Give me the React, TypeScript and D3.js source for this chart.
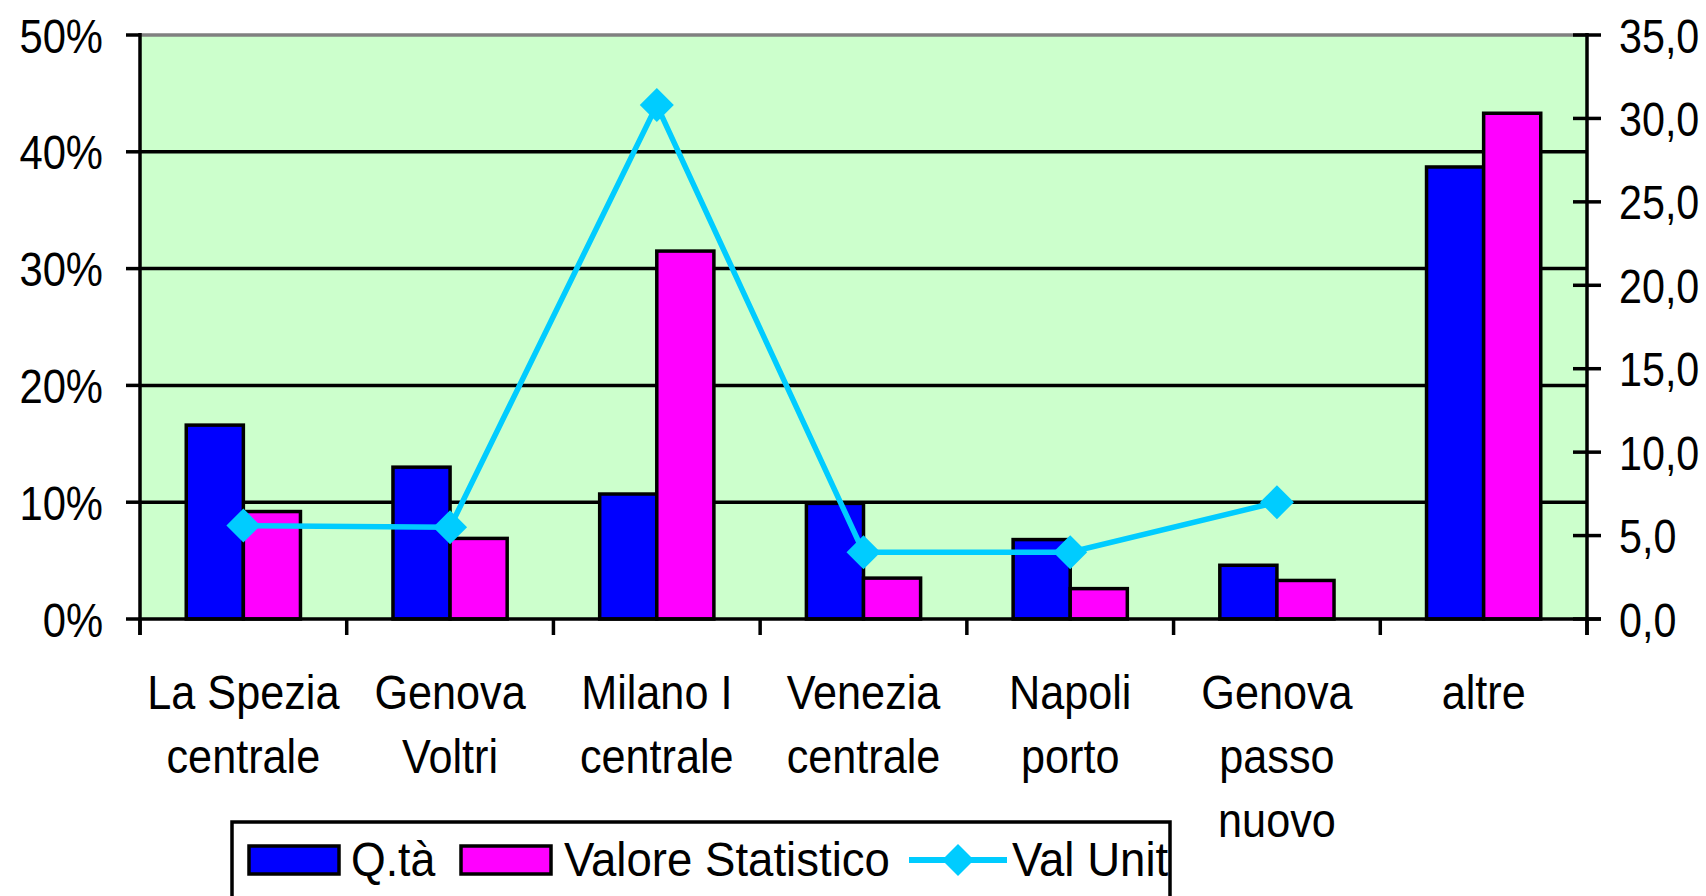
import React from 'react';
import * as d3 from 'd3';

// categories (line breaks as in the original axis)
const categories = [
  'La Spezia\ncentrale',
  'Genova\nVoltri',
  'Milano I\ncentrale',
  'Venezia\ncentrale',
  'Napoli\nporto',
  'Genova\npasso\nnuovo',
  'altre',
];

// % shares (left axis)
const qta = [16.6, 13.0, 10.7, 9.9, 6.8, 4.6, 38.7];
const valoreStatistico = [9.2, 6.9, 31.5, 3.5, 2.6, 3.3, 43.3];
// unit value (right axis), no value for "altre"
const valUnit: (number | null)[] = [5.6, 5.5, 30.8, 4.0, 4.0, 7.0, null];

const leftTicks = [0, 10, 20, 30, 40, 50];
const rightTicks = [0, 5, 10, 15, 20, 25, 30, 35];

const W = 1706;
const H = 896;
const FONT = '"Liberation Sans", Arial, sans-serif';
const FS = 48;

const BLUE = '#0000ff';
const PINK = '#ff00ff';
const CYAN = '#00ccff';
const BG = '#ccffcc';

const diamond = (cx: number, cy: number, r: number) =>
  `M${cx},${cy - r}L${cx + r},${cy}L${cx},${cy + r}L${cx - r},${cy}Z`;

// text is narrow in the original, so squeeze it horizontally
const Label = ({ x, y, anchor = 'middle', sx = 0.88, children }: any) => (
  <text
    transform={`translate(${x},${y}) scale(${sx},1)`}
    textAnchor={anchor}
    fontFamily={FONT}
    fontSize={FS}
    fill="#000"
  >
    {children}
  </text>
);

export default function App() {
  const left = 140;
  const right = 1587;
  const top = 35;
  const bottom = 619;

  const x = d3.scaleBand().domain(categories).range([left, right]).padding(0);
  const bw = x.bandwidth();
  const x1 = d3
    .scaleBand()
    .domain(['qta', 'valore'])
    .range([0, bw])
    .paddingInner(0)
    .paddingOuter(0.81);

  const yL = d3.scaleLinear().domain([0, 50]).range([bottom, top]);
  const yR = d3.scaleLinear().domain([0, 35]).range([bottom, top]);

  const pts = valUnit
    .map((v, i) => ({ v, c: categories[i] }))
    .filter((d) => d.v !== null) as { v: number; c: string }[];

  const line = d3
    .line<{ v: number; c: string }>()
    .x((d) => (x(d.c) as number) + bw / 2)
    .y((d) => yR(d.v));

  const series = [
    { key: 'qta', values: qta, color: BLUE },
    { key: 'valore', values: valoreStatistico, color: PINK },
  ];

  const boundaries = d3.range(categories.length + 1).map((i) => left + i * bw);

  return (
    <svg
      width={W}
      height={H}
      style={{ position: 'absolute', left: 0, top: 0, background: '#fff' }}
    >
      <rect x={left} y={top} width={right - left} height={bottom - top} fill={BG} />

      {/* gridlines */}
      {leftTicks.slice(1, -1).map((t) => (
        <line key={t} x1={left} x2={right} y1={yL(t)} y2={yL(t)} stroke="#000" strokeWidth={3.5} />
      ))}
      <line x1={left} x2={right} y1={top} y2={top} stroke="#808080" strokeWidth={3.5} />

      {/* bars */}
      {series.map((s) =>
        s.values.map((v, i) => (
          <rect
            key={s.key + i}
            x={(x(categories[i]) as number) + (x1(s.key) as number)}
            y={yL(v)}
            width={x1.bandwidth()}
            height={bottom - yL(v)}
            fill={s.color}
            stroke="#000"
            strokeWidth={3.5}
          />
        ))
      )}

      {/* left axis */}
      <line x1={left} x2={left} y1={top - 2} y2={bottom + 16} stroke="#000" strokeWidth={3.5} />
      {leftTicks.map((t) => (
        <g key={t}>
          <line x1={left - 14} x2={left} y1={yL(t)} y2={yL(t)} stroke="#000" strokeWidth={3.5} />
          <Label x={103} y={yL(t) + 17.5} anchor="end" sx={0.87}>{`${t}%`}</Label>
        </g>
      ))}

      {/* right axis */}
      <line x1={right} x2={right} y1={top - 2} y2={bottom + 16} stroke="#000" strokeWidth={3.5} />
      {rightTicks.map((t) => (
        <g key={t}>
          <line x1={right - 14} x2={right + 14} y1={yR(t)} y2={yR(t)} stroke="#000" strokeWidth={3.5} />
          <Label x={1619} y={yR(t) + 17.5} anchor="start" sx={0.86}>
            {t.toFixed(1).replace('.', ',')}
          </Label>
        </g>
      ))}

      {/* x axis */}
      <line x1={left} x2={right + 14} y1={bottom} y2={bottom} stroke="#000" strokeWidth={3.5} />
      {boundaries.map((b, i) => (
        <line key={i} x1={b} x2={b} y1={bottom} y2={bottom + 16} stroke="#000" strokeWidth={3.5} />
      ))}
      {categories.map((c) =>
        c.split('\n').map((ln, j) => (
          <Label key={c + j} x={(x(c) as number) + bw / 2} y={709 + j * 64} sx={0.9}>
            {ln}
          </Label>
        ))
      )}

      {/* line series */}
      <path d={line(pts) || ''} fill="none" stroke={CYAN} strokeWidth={5.5} />
      {pts.map((d, i) => (
        <path key={i} d={diamond((x(d.c) as number) + bw / 2, yR(d.v), 17)} fill={CYAN} />
      ))}

      {/* legend */}
      <rect x={232} y={822} width={938} height={120} fill="#fff" stroke="#000" strokeWidth={3.5} />
      <rect x={249} y={846} width={90} height={28} fill={BLUE} stroke="#000" strokeWidth={3.5} />
      <Label x={351} y={876} anchor="start" sx={0.93}>Q.tà</Label>
      <rect x={461} y={846} width={90} height={28} fill={PINK} stroke="#000" strokeWidth={3.5} />
      <Label x={564} y={876} anchor="start" sx={0.95}>Valore Statistico</Label>
      <line x1={909} x2={1007} y1={860} y2={860} stroke={CYAN} strokeWidth={6} />
      <path d={diamond(958, 860, 16)} fill={CYAN} />
      <Label x={1012} y={876} anchor="start" sx={0.95}>Val Unit</Label>
    </svg>
  );
}
